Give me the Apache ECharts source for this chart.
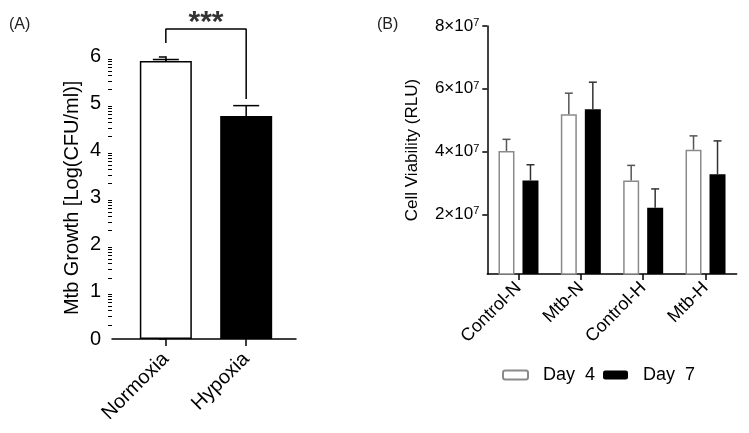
<!DOCTYPE html>
<html><head><meta charset="utf-8">
<script src="https://cdn.jsdelivr.net/npm/echarts@6/dist/echarts.min.js"></script>
<style>html,body{margin:0;padding:0;background:#fff}#c{width:749px;height:433px}</style>
</head><body><div id="c"></div>
<script>
// ---- Panel A data ----
const catsA = ['Normoxia', 'Hypoxia'];
const meanA = [5.91, 4.74];
const errA = [0.03, 0.22];
const ticksA = [0, 1, 2, 3, 4, 5, 6];
const bracketA = [[0, 6.29], [0, 6.59], [1, 6.59], [1, 5.1]];
const sigLabel = '***';
// ---- Panel B data ----
const catsB = ['Control-N', 'Mtb-N', 'Control-H', 'Mtb-H'];
const seriesNamesB = ['Day  4', 'Day  7'];
const day4 = [4.02e7, 5.19e7, 3.08e7, 4.06e7];
const day4Err = [0.37e7, 0.67e7, 0.48e7, 0.44e7];
const day7 = [3.08e7, 5.35e7, 2.21e7, 3.28e7];
const day7Err = [0.50e7, 0.86e7, 0.60e7, 1.06e7];
const ticksB = [2e7, 4e7, 6e7, 8e7];

const FONT = 'Liberation Sans';
// log-style minor ticks inside each unit (axis is log CFU)
const minorA = [];
for (let n = 0; n < 6; n++) for (let k = 2; k <= 9; k++) minorA.push(n + Math.log10(k));

function errRender(dx, hw, color) {
  return function (params, api) {
    const x = api.value(0), y = api.value(1), e = api.value(2);
    const p0 = api.coord([x, y]);
    const p1 = api.coord([x, y + e]);
    const cx = p0[0] + dx;
    return {
      type: 'group', children: [
        { type: 'line', shape: { x1: cx, y1: p0[1], x2: cx, y2: p1[1] }, style: { stroke: color, lineWidth: 1.5 } },
        { type: 'line', shape: { x1: cx - hw, y1: p1[1], x2: cx + hw, y2: p1[1] }, style: { stroke: color, lineWidth: 1.5 } }
      ]
    };
  };
}

const chart = echarts.init(document.getElementById('c'), null, { renderer: 'canvas' });
const sigPoint = [(bracketA[1][0] + bracketA[2][0]) / 2, bracketA[1][1]];

chart.setOption({
  animation: false,
  backgroundColor: '#fff',
  textStyle: { fontFamily: FONT, color: '#000' },
  title: [
    { text: '(A)', left: 9, top: 17, padding: 0, textStyle: { fontFamily: FONT, fontSize: 16, fontWeight: 'normal', color: '#222' } },
    { text: '(B)', left: 377, top: 17, padding: 0, textStyle: { fontFamily: FONT, fontSize: 16, fontWeight: 'normal', color: '#222' } }
  ],
  legend: {
    data: seriesNamesB,
    left: 497, top: 361,
    itemWidth: 25, itemHeight: 9, itemGap: 8,
    textStyle: { fontFamily: FONT, fontSize: 18, color: '#000', padding: [0, 0, 0, 10] }
  },
  grid: [
    { left: 112, right: 453, top: 56.7, bottom: 94 },
    { left: 487.3, right: 12.3, top: 26, bottom: 159 }
  ],
  xAxis: [
    {
      gridIndex: 0, type: 'value', min: -0.67, max: 1.62,
      axisLine: { show: true, lineStyle: { color: '#000', width: 1.5 } },
      axisTick: { show: true, customValues: [0, 1], length: 7, lineStyle: { color: '#000', width: 1.5 } },
      axisLabel: {
        customValues: [0, 1], rotate: 45, margin: 17, fontSize: 20, fontFamily: FONT, color: '#000',
        formatter: v => catsA[Math.round(v)]
      },
      splitLine: { show: false }
    },
    {
      gridIndex: 1, type: 'category', data: catsB,
      axisLine: { show: true, lineStyle: { color: '#000', width: 1.5 } },
      axisTick: { show: true, alignWithLabel: true, length: 6, lineStyle: { color: '#000', width: 1.5 } },
      axisLabel: { rotate: 45, margin: 11, fontSize: 18, fontFamily: FONT, color: '#000', interval: 0 }
    }
  ],
  yAxis: [
    {
      gridIndex: 0, type: 'value', min: 0, max: 6, interval: 1,
      name: 'Mtb Growth [Log(CFU/ml)]', nameLocation: 'middle', nameGap: 30,
      nameTextStyle: { fontFamily: FONT, fontSize: 20, color: '#000' },
      axisLine: { show: true, lineStyle: { color: '#000', width: 1.5 } },
      axisTick: { show: true, length: 7, lineStyle: { color: '#000', width: 1.5 } },
      axisLabel: { margin: 11, fontSize: 20, fontFamily: FONT, color: '#000', customValues: ticksA },
      splitLine: { show: false }
    },
    {
      gridIndex: 0, type: 'value', min: 0, max: 6, position: 'left', offset: 0,
      axisLine: { show: false },
      axisTick: { show: true, customValues: minorA, length: 4, lineStyle: { color: '#000', width: 1 } },
      axisLabel: { show: false },
      splitLine: { show: false }
    },
    {
      gridIndex: 1, type: 'value', min: 1e6, max: 8e7,
      name: 'Cell Viability (RLU)', nameLocation: 'middle', nameGap: 66,
      nameTextStyle: { fontFamily: FONT, fontSize: 17, color: '#000' },
      axisLine: { show: true, lineStyle: { color: '#000', width: 1.5 } },
      axisTick: { show: true, customValues: ticksB, length: 5, lineStyle: { color: '#000', width: 1.5 } },
      axisLabel: {
        customValues: ticksB, margin: 8, color: '#000',
        formatter: v => '{m|' + Math.round(v / 1e7) + '×10}{e|7}',
        rich: {
          m: { fontFamily: FONT, fontSize: 17, color: '#000' },
          e: { fontFamily: FONT, fontSize: 11, color: '#000', verticalAlign: 'top', padding: [0, 0, 6, 0] }
        }
      },
      splitLine: { show: false }
    }
  ],
  series: [
    {
      type: 'bar', xAxisIndex: 0, yAxisIndex: 0, barWidth: 52,
      data: meanA.map((v, i) => ({
        value: [i, v],
        itemStyle: i === 0 ? { color: '#fff', borderColor: '#000', borderWidth: 1.5 } : { color: '#000' }
      }))
    },
    {
      type: 'custom', xAxisIndex: 0, yAxisIndex: 0, z: 5,
      renderItem: errRender(0, 13, '#000'),
      data: meanA.map((v, i) => [i, v, errA[i]])
    },
    {
      type: 'line', xAxisIndex: 0, yAxisIndex: 0, clip: false, symbol: 'none',
      lineStyle: { color: '#000', width: 1.5 }, data: bracketA, z: 5
    },
    {
      type: 'scatter', xAxisIndex: 0, yAxisIndex: 0, clip: false, symbolSize: 0,
      data: [sigPoint],
      label: { show: true, position: 'top', distance: -9, formatter: sigLabel, fontFamily: FONT, fontSize: 30, fontWeight: 'bold', color: '#000' }
    },
    {
      name: seriesNamesB[0], type: 'bar', xAxisIndex: 1, yAxisIndex: 2, barWidth: 16, barGap: '50%',
      itemStyle: { color: '#fff', borderColor: '#8a8a8a', borderWidth: 1.5 },
      data: day4
    },
    {
      name: seriesNamesB[1], type: 'bar', xAxisIndex: 1, yAxisIndex: 2, barWidth: 16, barGap: '50%',
      itemStyle: { color: '#000' },
      data: day7
    },
    {
      type: 'custom', xAxisIndex: 1, yAxisIndex: 2, z: 5,
      renderItem: errRender(-12, 4, '#555'),
      data: day4.map((v, i) => [i, v, day4Err[i]])
    },
    {
      type: 'custom', xAxisIndex: 1, yAxisIndex: 2, z: 5,
      renderItem: errRender(12, 4, '#333'),
      data: day7.map((v, i) => [i, v, day7Err[i]])
    }
  ]
});
</script></body></html>
